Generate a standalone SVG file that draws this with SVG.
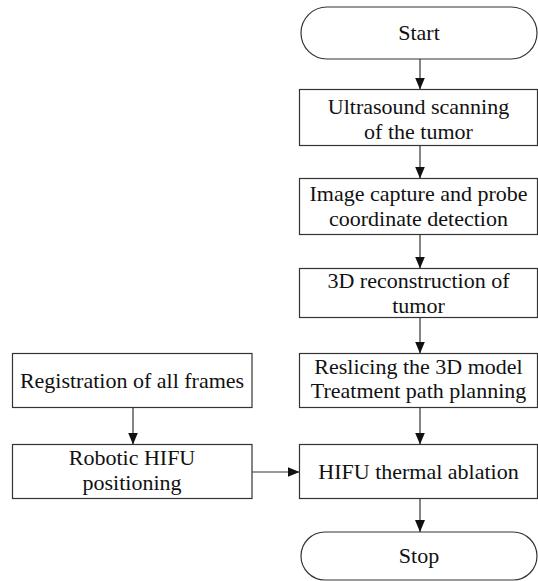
<svg xmlns="http://www.w3.org/2000/svg" width="538" height="581" viewBox="0 0 538 581">
<defs>
<style>
.box{fill:#fff;stroke:#333;stroke-width:1.2}
.t{font-family:"Liberation Serif","Times New Roman",serif;font-size:22px;fill:#111;text-anchor:middle}
.c{fill:none;stroke:#333;stroke-width:1.2}
</style>
<marker id="ah" markerUnits="userSpaceOnUse" markerWidth="13" markerHeight="11" refX="12" refY="5" orient="auto">
<path d="M0,0 L12,5 L0,10 Z" fill="#111"/>
</marker>
</defs>
<rect width="538" height="581" fill="#fff"/>
<g id="connectors">
<line class="c" x1="420" y1="59" x2="420" y2="89.5" marker-end="url(#ah)"/>
<line class="c" x1="420" y1="145.5" x2="420" y2="178.5" marker-end="url(#ah)"/>
<line class="c" x1="420" y1="234.5" x2="420" y2="268.5" marker-end="url(#ah)"/>
<line class="c" x1="420" y1="317.5" x2="420" y2="353.5" marker-end="url(#ah)"/>
<line class="c" x1="420" y1="407.5" x2="420" y2="444.5" marker-end="url(#ah)"/>
<line class="c" x1="420" y1="498.5" x2="420" y2="532" marker-end="url(#ah)"/>
<line class="c" x1="133" y1="407.5" x2="133" y2="444.5" marker-end="url(#ah)"/>
<line class="c" x1="252" y1="472" x2="299.5" y2="472" marker-end="url(#ah)"/>
</g>
<g id="start">
<rect class="box" x="301" y="7" width="236" height="52" rx="26" ry="26"/>
<text class="t" x="419" y="40">Start</text>
</g>
<g id="scan">
<rect class="box" x="299.5" y="89.5" width="238" height="56"/>
<text class="t" x="418.5" y="114">Ultrasound scanning</text>
<text class="t" x="418.5" y="139">of the tumor</text>
</g>
<g id="capture">
<rect class="box" x="299.5" y="178.5" width="238" height="56"/>
<text class="t" x="418.5" y="201">Image capture and probe</text>
<text class="t" x="418.5" y="226">coordinate detection</text>
</g>
<g id="recon">
<rect class="box" x="299.5" y="268.5" width="238" height="49"/>
<text class="t" x="418.5" y="288">3D reconstruction of</text>
<text class="t" x="418.5" y="313">tumor</text>
</g>
<g id="reslice">
<rect class="box" x="299.5" y="353.5" width="238" height="54"/>
<text class="t" x="418.5" y="374">Reslicing the 3D model</text>
<text class="t" x="418.5" y="398">Treatment path planning</text>
</g>
<g id="hifu">
<rect class="box" x="299.5" y="444.5" width="238" height="54"/>
<text class="t" x="418.5" y="479">HIFU thermal ablation</text>
</g>
<g id="stop">
<rect class="box" x="301" y="532" width="236" height="48" rx="24" ry="24"/>
<text class="t" x="419" y="563">Stop</text>
</g>
<g id="registration">
<rect class="box" x="12.5" y="353.5" width="239.5" height="54"/>
<text class="t" x="132" y="388">Registration of all frames</text>
</g>
<g id="robotic">
<rect class="box" x="12.5" y="444.5" width="239.5" height="54"/>
<text class="t" x="132" y="465">Robotic HIFU</text>
<text class="t" x="132" y="490">positioning</text>
</g>
</svg>
